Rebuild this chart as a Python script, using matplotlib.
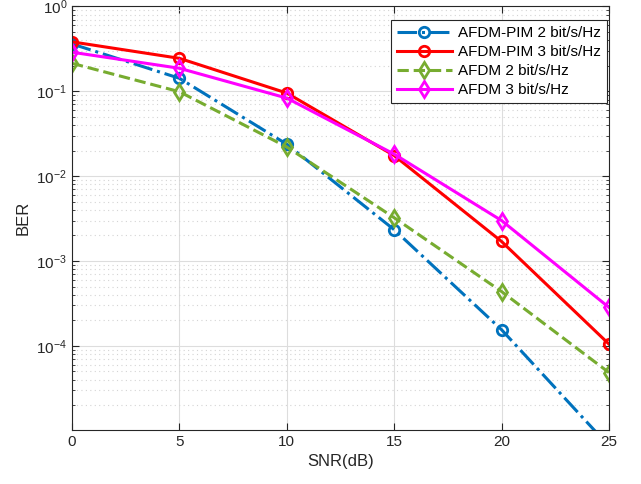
import numpy as np
import matplotlib.pyplot as plt
from matplotlib.ticker import LogLocator, NullFormatter

plt.rcParams['font.family'] = ['Liberation Sans', 'DejaVu Sans']

snr = [0, 5, 10, 15, 20, 25]
ber_pim2 = [0.362, 0.1425, 0.0238, 0.00234, 1.55e-4, 6.6e-6]
ber_pim3 = [0.383, 0.245, 0.0955, 0.0175, 0.0017, 1.05e-4]
ber_afdm2 = [0.214, 0.099, 0.0221, 0.00324, 4.37e-4, 4.85e-5]
ber_afdm3 = [0.289, 0.187, 0.0833, 0.0182, 0.0030, 2.84e-4]

fig = plt.figure(figsize=(6.41, 4.84), dpi=100)
ax = fig.add_axes([0.1123, 0.1116, 0.8377, 0.875])

lw = 2.2
ms = 7.5
ax.semilogy(snr, ber_pim2, '-.', color='#0072BD', lw=lw, marker='o', ms=ms,
            mfc='none', mew=2, label='AFDM-PIM 2 bit/s/Hz')
ax.semilogy(snr, ber_pim3, '-', color='#FF0000', lw=lw, marker='o', ms=ms,
            mfc='none', mew=2, label='AFDM-PIM 3 bit/s/Hz')
ax.semilogy(snr, ber_afdm2, '--', color='#77AC30', lw=lw, marker='d', ms=ms + 1,
            mfc='none', mew=2, label='AFDM 2 bit/s/Hz')
ax.semilogy(snr, ber_afdm3, '-', color='#FF00FF', lw=lw, marker='d', ms=ms + 1,
            mfc='none', mew=2, label='AFDM 3 bit/s/Hz')

ax.set_xlim(0, 25)
ax.set_ylim(1.02e-5, 1)
ax.set_xticks(snr)
ax.yaxis.set_major_locator(LogLocator(base=10, numticks=10))
ax.yaxis.set_minor_locator(LogLocator(base=10, subs=np.arange(2, 10), numticks=20))
ax.yaxis.set_minor_formatter(NullFormatter())

ax.grid(True, which='major', color='#dddddd', lw=0.8, ls='-')
ax.grid(True, which='minor', axis='y', color='#d4d4d4', lw=0.8, ls=(0, (1, 3)))
ax.set_axisbelow(True)
ax.tick_params(which='both', direction='in', top=True, right=True, labelsize=11,
               colors='#262626')
ax.tick_params(which='major', length=5)
ax.tick_params(which='minor', length=2.5)
for s in ax.spines.values():
    s.set_color('#262626')
    s.set_linewidth(0.8)

ax.set_xlabel('SNR(dB)', fontsize=12, color='#262626')
ax.set_ylabel('BER', fontsize=12, color='#262626')

leg = ax.legend(loc='upper right', bbox_to_anchor=(0.996, 0.968), fontsize=11,
                fancybox=False, framealpha=1, edgecolor='#262626',
                borderaxespad=0, handlelength=3.6, handletextpad=0.4,
                labelspacing=0.33, borderpad=0.4)
leg.get_frame().set_linewidth(0.8)

fig.savefig('out.png', dpi=100)
